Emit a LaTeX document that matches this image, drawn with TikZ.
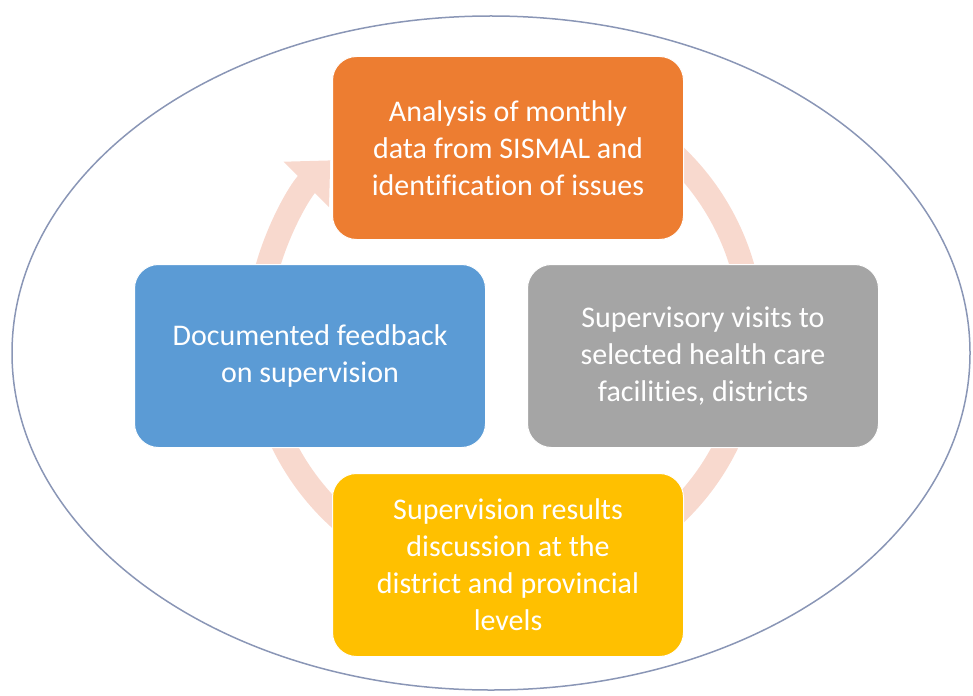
\documentclass[tikz,border=0pt]{standalone}
\usepackage{fontspec}
\setmainfont[Ligatures=NoCommon]{Carlito}
\usetikzlibrary{calc,arrows.meta}

\definecolor{sisorange}{RGB}{237,125,49}
\definecolor{sisgray}{RGB}{165,165,165}
\definecolor{sisyellow}{RGB}{255,192,0}
\definecolor{sisblue}{RGB}{91,155,213}
\definecolor{ringpink}{RGB}{248,217,206}
\definecolor{rimline}{RGB}{138,150,182}

\begin{document}
\begin{tikzpicture}[x=1pt,y=-1pt,
    stage/.style={rounded corners=24pt, draw=white, line width=1pt,
      text=white, align=center, inner sep=0pt,
      minimum width=351pt, minimum height=183pt,
      font=\fontsize{30}{37}\selectfont}]
        \useasboundingbox (0,0) rectangle (973,695);
        % outer ring
        \draw[rimline, line width=1.5pt] (491,353) ellipse[x radius=479, y radius=337];
        % cycle arrow, goes behind the boxes
        \coordinate (hub) at (505,335);
        \draw[ringpink, line width=24pt, -{Triangle[width=62pt,length=34pt]}]
          ($(hub)+(-75:247)$) arc[start angle=-75, end angle=225, radius=247];
        % the four stages
        \node[stage, fill=sisorange] (analysis) at (508,148)
          {Analysis of monthly\\data from SISMAL and\\identification of issues};
        \node[stage, fill=sisgray] (visits) at (703,356)
          {Supervisory visits to\\selected health care\\facilities, districts};
        \node[stage, fill=sisyellow] (discussion) at (508,565)
          {Supervision results\\discussion at the\\district and provincial\\levels};
        \node[stage, fill=sisblue] (feedback) at (310,356)
          {Documented feedback\\on supervision};
      \end{tikzpicture}
\end{document}
